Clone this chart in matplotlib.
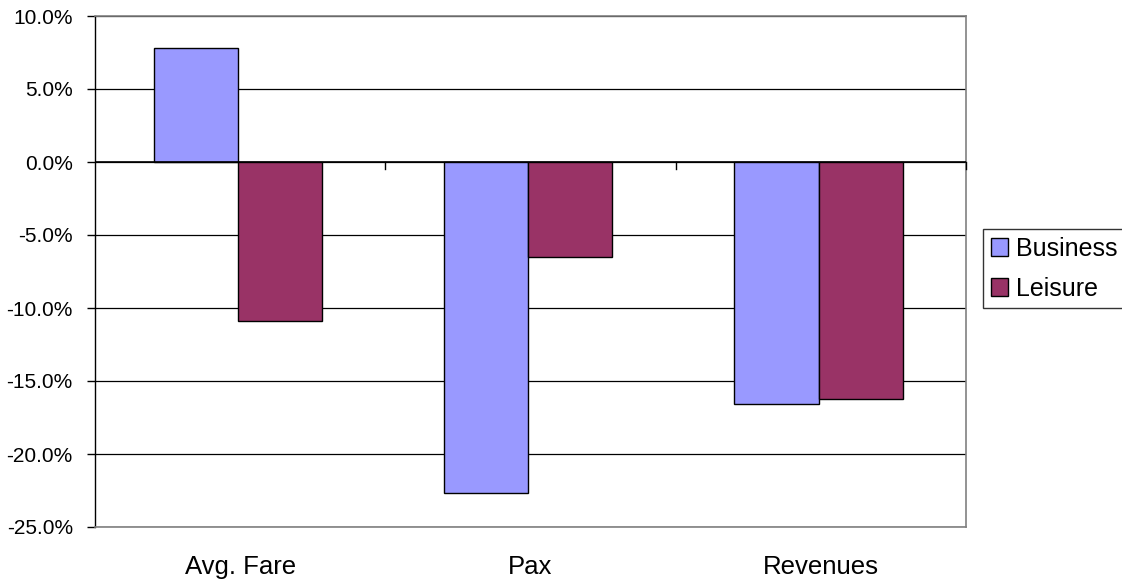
# 商务/休闲旅客变化率柱状图
import numpy as np
import matplotlib
matplotlib.use('Agg')
import matplotlib.pyplot as plt
from matplotlib.ticker import FuncFormatter

plt.rcParams['font.family'] = ['Liberation Sans', 'DejaVu Sans']

# -----------------数据
categories = ['Avg. Fare', 'Pax', 'Revenues']
business = [7.8, -22.7, -16.6]   # 百分比
leisure = [-10.9, -6.5, -16.2]
series_names = ['Business', 'Leisure']
colors = ['#9999FF', '#993366']

# -----------------绘图
fig = plt.figure(figsize=(11.22, 5.81), dpi=100)
ax = fig.add_axes([95 / 1122, 54 / 581, 871 / 1122, 511 / 581])

x = np.arange(len(categories)) - 0.008
w = 0.29
b1 = ax.bar(x - w / 2, business, w, color=colors[0], edgecolor='black', linewidth=1, zorder=3)
b2 = ax.bar(x + w / 2, leisure, w, color=colors[1], edgecolor='black', linewidth=1, zorder=3)

ax.set_xlim(-0.5, 2.5)
ax.set_ylim(-25, 10)
ax.set_yticks(np.arange(-25, 10.1, 5))
ax.yaxis.set_major_formatter(FuncFormatter(lambda v, p: '%.1f%%' % v))
ax.tick_params(axis='y', labelsize=15, length=6, width=1, color='black', pad=10)
ax.yaxis.grid(True, color='#000000', linewidth=0.9, zorder=0)

ax.set_xticks(np.arange(len(categories)))
ax.set_xticklabels(categories, fontsize=18.5)
ax.tick_params(axis='x', length=0, pad=20)

for side in ['top', 'right', 'bottom']:
    ax.spines[side].set_color('#808080')
    ax.spines[side].set_linewidth(1.2)
ax.spines['left'].set_color('black')
ax.spines['left'].set_linewidth(1)

# 零线及分类分隔刻度
ax.axhline(0, color='black', linewidth=1.2, zorder=4)
for b in [0.5, 1.5, 2.5]:
    ax.plot([b, b], [0, -0.5], color='black', linewidth=1, zorder=4, clip_on=False)

leg = ax.legend([b1, b2], series_names, loc='upper left',
                bbox_to_anchor=(983 / 1122, 1 - 229 / 581), bbox_transform=fig.transFigure,
                borderaxespad=0, fontsize=18, frameon=True, fancybox=False,
                handlelength=0.7, handleheight=0.7, handletextpad=0.3,
                borderpad=0.3, labelspacing=0.65)
leg.get_frame().set_edgecolor('black')
leg.get_frame().set_linewidth(1)

fig.savefig('out.png', dpi=100)
